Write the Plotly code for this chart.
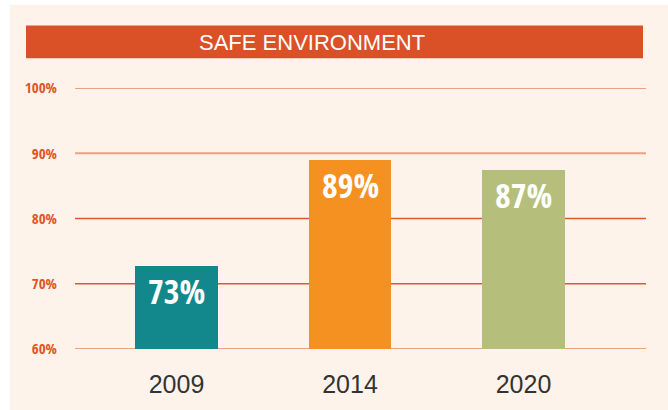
import plotly.graph_objects as go

# ---- data ----
years = ["2009", "2014", "2020"]
values = [72.7, 89.0, 87.5]
bar_labels = ["73%", "89%", "87%"]
y_ticks = [60, 70, 80, 90, 100]
y_tick_text = ["60%", "70%", "80%", "90%", "100%"]
title_text = "SAFE ENVIRONMENT"

# ---- styles ----
bar_colors = ["#13888c", "#f59121", "#b5bf7b"]
grid_colors = {60: "#eea083", 70: "#e3572e", 80: "#e3572e", 90: "#eea083", 100: "#eea083"}
grid_widths = {60: 2, 70: 1.5, 80: 1.5, 90: 2, 100: 2}
cream = "#fdf3ea"
red = "#da5128"
tick_red = "#e0542b"
narrow = "Open Sans Condensed, Roboto Condensed, sans-serif"

W, H = 668, 410
L, R, T, B = 75, 22, 88, 59
pw, ph = W - L - R, H - T - B


def px_x(x):
    return (x - L) / pw


def px_y(y):
    return (H - B - y) / ph


fig = go.Figure()
fig.add_trace(go.Bar(
    x=years, y=values, marker=dict(color=bar_colors, line=dict(width=0)),
    width=0.478, hoverinfo="skip",
))

shapes = []
# cream background panel
shapes.append(dict(type="rect", xref="paper", yref="paper",
                   x0=px_x(10), x1=px_x(W + 5), y0=px_y(H + 5), y1=px_y(4),
                   fillcolor=cream, line=dict(width=0), layer="below"))
# gridlines
for v in y_ticks:
    shapes.append(dict(type="line", xref="paper", yref="y", x0=0, x1=1, y0=v, y1=v,
                       line=dict(color=grid_colors[v], width=grid_widths[v]), layer="below"))
# title bar
shapes.append(dict(type="rect", xref="paper", yref="paper",
                   x0=px_x(26), x1=px_x(643), y0=px_y(58), y1=px_y(25),
                   fillcolor=red, line=dict(width=0), layer="above"))

annotations = [dict(text=title_text, xref="paper", yref="paper", x=px_x(311.5), y=px_y(42),
                    xanchor="center", yanchor="middle", showarrow=False,
                    font=dict(family="Liberation Sans, Arial, sans-serif", size=22, color="white"))]
for i, (v, lab) in enumerate(zip(values, bar_labels)):
    annotations.append(dict(text=lab, x=i, y=v, xref="x", yref="y",
                            xanchor="center", yanchor="top", yshift=0, showarrow=False,
                            font=dict(family=narrow, size=34, color="white", weight="bold")))

fig.update_layout(
    width=W, height=H,
    margin=dict(l=L, r=R, t=T, b=B, pad=0),
    paper_bgcolor="white", plot_bgcolor="rgba(0,0,0,0)",
    showlegend=False, bargap=0,
    shapes=shapes, annotations=annotations,
    xaxis=dict(type="category", range=[-0.585, 2.706], showgrid=False, zeroline=False,
               showline=False, ticks="", ticklabelstandoff=18,
               tickfont=dict(family="Liberation Sans, Arial, sans-serif", size=25, color="#333333")),
    yaxis=dict(range=[60, 100], tickvals=y_ticks, ticktext=y_tick_text, showgrid=False,
               zeroline=False, showline=False, ticks="", ticklabelstandoff=17,
               tickfont=dict(family=narrow, size=15, color=tick_red, weight="bold")),
)

fig.write_html("out.html", config={"displayModeBar": False},
               post_script="document.body.style.margin='0';")
